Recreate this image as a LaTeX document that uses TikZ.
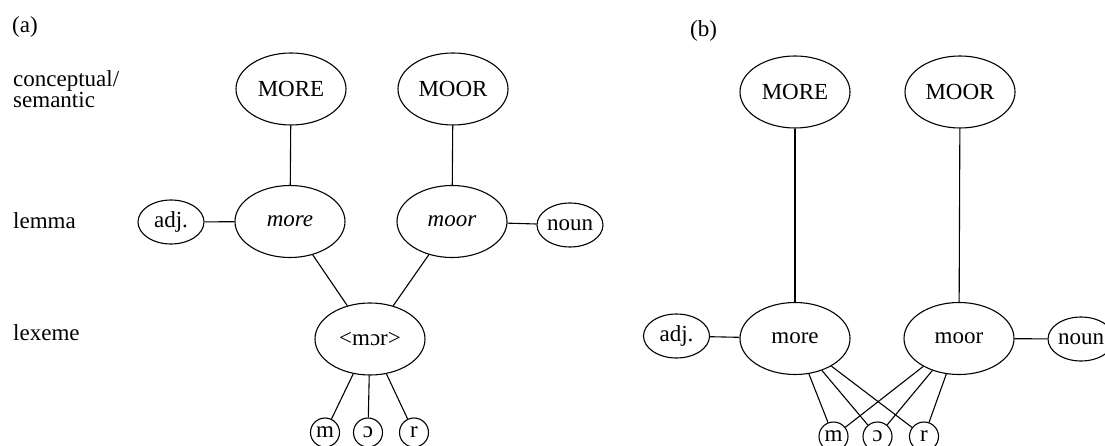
\documentclass[tikz,border=0pt]{standalone}
\usepackage{fontspec}
\setmainfont{Liberation Serif}
\usetikzlibrary{shapes.geometric}
\begin{document}
\begin{tikzpicture}[x=1pt,y=-1pt,
  every node/.style={font=\fontsize{23}{26}\selectfont},
  big/.style={ellipse, draw, line width=1.1pt, minimum width=110pt, minimum height=72pt, inner sep=0pt},
  tag/.style={ellipse, draw, line width=1.1pt, minimum width=66pt, minimum height=44pt, inner sep=0pt},
  phon/.style={circle, draw, line width=1.1pt, minimum size=29pt, inner sep=0pt, font=\fontsize{23}{24}\selectfont},
  lbl/.style={anchor=base west, inner sep=0pt},
  link/.style={line width=1.1pt}]
\useasboundingbox (0,0) rectangle (1105,446);

% ---- panel (a): one lexeme shared by two lemmas
\node[lbl] (tagA) at (12,33) {(a)};
\node[lbl] (lvlC1) at (13,87) {conceptual/};
\node[lbl] (lvlC2) at (13,108) {semantic};
\node[lbl] (lvlL) at (13,229) {lemma};
\node[lbl] (lvlX) at (13,340) {lexeme};

\node[big] (conMoreA) at (291,89) {MORE};
\node[big] (conMoorA) at (453,89) {MOOR};
\node[big] (lemMoreA) at (290,221.5) {\itshape more};
\node[big] (lemMoorA) at (452,221.5) {\itshape moor};
\node[tag] (adjA) at (171,222) {adj.};
\node[tag] (nounA) at (570,225) {noun};
\node[big] (lexA) at (370,339) {<mɔr>};
\node[phon] (pmA) at (325,432.5) {m};
\node[phon] (poA) at (368,432.5) {ɔ};
\node[phon] (prA) at (414,432.5) {r};

\draw[link] (conMoreA) -- (lemMoreA);
\draw[link] (conMoorA) -- (lemMoorA);
\draw[link] (adjA) -- (lemMoreA);
\draw[link] (lemMoorA) -- (nounA);
\draw[link] (lemMoreA) -- (lexA);
\draw[link] (lemMoorA) -- (lexA);
\draw[link] (lexA) -- (pmA);
\draw[link] (lexA) -- (poA);
\draw[link] (lexA) -- (prA);

% ---- panel (b): lemmas linked straight to the segments
\node[lbl] (tagB) at (690,37) {(b)};

\node[big] (conMoreB) at (795,92) {MORE};
\node[big] (conMoorB) at (960,92) {MOOR};
\node[big] (lemMoreB) at (795,338.5) {more};
\node[big] (lemMoorB) at (959,338.5) {moor};
\node[tag] (adjB) at (676.5,336) {adj.};
\node[tag] (nounB) at (1081,339) {noun};
\node[phon] (pmB) at (833.5,436.5) {m};
\node[phon] (poB) at (877.5,436.5) {ɔ};
\node[phon] (prB) at (924,436.5) {r};

\draw[link] (conMoreB) -- (lemMoreB);
\draw[link] (conMoorB) -- (lemMoorB);
\draw[link] (adjB) -- (lemMoreB);
\draw[link] (lemMoorB) -- (nounB);
\foreach \p in {pmB,poB,prB} {
  \draw[link] (lemMoreB) -- (\p);
  \draw[link] (lemMoorB) -- (\p);
}
\end{tikzpicture}
\end{document}
